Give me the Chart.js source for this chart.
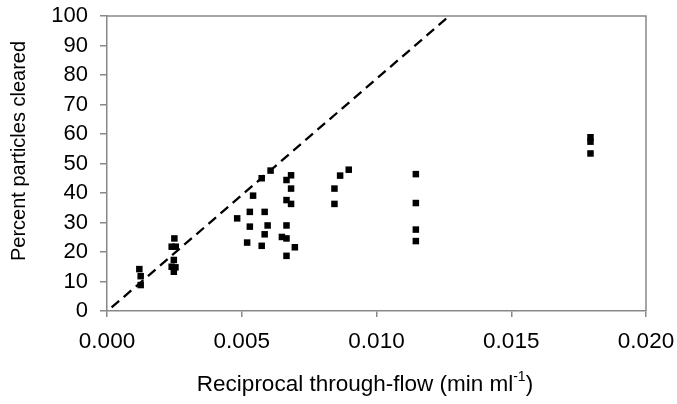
<!DOCTYPE html>
<html>
<head>
<meta charset="utf-8">
<script src="https://cdn.jsdelivr.net/npm/chart.js@4.4.1/dist/chart.umd.min.js"></script>
<style>
  html, body { margin: 0; padding: 0; background: #fff; }
  #wrap { width: 677px; height: 404px; position: relative; }
</style>
</head>
<body>
<div id="wrap"><canvas id="clearChart"></canvas></div>
<script>
// Measured points (reciprocal through-flow vs percent cleared)
const flowValues = [
    0.0012, 0.00125, 0.00125,
    0.0025, 0.0024, 0.00255, 0.00248, 0.0024, 0.00254, 0.00248,
    0.00483, 0.0052, 0.0053, 0.0053, 0.00542, 0.00574, 0.00574, 0.00585, 0.00585, 0.00596,
    0.00607, 0.00649, 0.00666, 0.00683, 0.00666, 0.00683, 0.00683, 0.00666, 0.00666, 0.00666, 0.00697,
    0.00844, 0.00844, 0.00865, 0.00897,
    0.01146, 0.01146, 0.01146, 0.01146,
    0.01794, 0.01794, 0.01794
];
const clearedValues = [
    14.2, 11.8, 8.8,
    24.6, 21.8, 21.8, 17.3, 15.0, 14.8, 13.3,
    31.4, 23.2, 33.6, 28.6, 39.1, 45.0, 22.1, 33.6, 26.0, 29.0,
    47.6, 25.1, 44.4, 46.0, 37.6, 41.5, 36.3, 29.0, 24.6, 18.7, 21.6,
    41.5, 36.3, 45.9, 47.9,
    46.4, 36.6, 27.6, 23.7,
    58.9, 57.4, 53.4
];
// Dashed model line
const modelX = [0.00017, 0.0127];
const modelY = [1.2, 100];

const xTicks = [0, 0.005, 0.010, 0.015, 0.020];
const yTicks = [0, 10, 20, 30, 40, 50, 60, 70, 80, 90, 100];

const axisGray = "#888888";
const textColor = "#000000";
const fontFamily = "'Liberation Sans', Arial, sans-serif";

// Frame (top/right) and axis titles
const framePlugin = {
    id: "frame",
    afterDraw(chart) {
        const { ctx, chartArea: a } = chart;
        ctx.save();
        ctx.strokeStyle = axisGray;
        ctx.lineWidth = 1.5;
        ctx.beginPath();
        ctx.moveTo(a.left, a.top);
        ctx.lineTo(a.right, a.top);
        ctx.lineTo(a.right, a.bottom);
        ctx.stroke();

        // y title
        ctx.fillStyle = textColor;
        ctx.font = `20px ${fontFamily}`;
        ctx.textAlign = "center";
        ctx.textBaseline = "middle";
        ctx.translate(19, 151);
        ctx.rotate(-Math.PI / 2);
        ctx.fillText("Percent particles cleared", 0, 0);
        ctx.restore();

        // x title with superscript
        ctx.save();
        ctx.fillStyle = textColor;
        ctx.textBaseline = "alphabetic";
        const main = "Reciprocal through-flow (min ml";
        const sup = "-1";
        const tail = ")";
        const bigFont = `22.5px ${fontFamily}`;
        const smallFont = `14px ${fontFamily}`;
        ctx.font = bigFont;
        const wMain = ctx.measureText(main).width;
        const wTail = ctx.measureText(tail).width;
        ctx.font = smallFont;
        const wSup = ctx.measureText(sup).width;
        const total = wMain + wSup + wTail;
        let x = 365 - total / 2;
        const base = 391;
        ctx.font = bigFont;
        ctx.fillText(main, x, base);
        x += wMain;
        ctx.font = smallFont;
        ctx.fillText(sup, x, base - 10);
        x += wSup;
        ctx.font = bigFont;
        ctx.fillText(tail, x, base);
        ctx.restore();
    }
};

const points = flowValues.map((v, i) => ({ x: v, y: clearedValues[i] }));
const modelLine = modelX.map((v, i) => ({ x: v, y: modelY[i] }));

new Chart(document.getElementById("clearChart"), {
    type: "scatter",
    data: {
        datasets: [
            {
                label: "Model",
                data: modelLine,
                showLine: true,
                borderColor: "#000",
                borderWidth: 2.3,
                borderDash: [10, 6],
                pointRadius: 0,
                fill: false
            },
            {
                label: "Measured",
                data: points,
                pointStyle: "rect",
                pointRadius: 4.6,
                pointBackgroundColor: "#000",
                pointBorderWidth: 0,
                borderColor: "#000"
            }
        ]
    },
    options: {
        responsive: true,
        maintainAspectRatio: false,
        animation: false,
        layout: { padding: { top: 16, right: 31, left: 0, bottom: 0 } },
        plugins: {
            legend: { display: false },
            tooltip: { enabled: false }
        },
        scales: {
            x: {
                type: "linear",
                min: 0,
                max: 0.02,
                afterFit: s => {
                    s.height = 93;
                    s.paddingLeft = 0;
                    s.paddingRight = 0;
                },
                afterBuildTicks: s => { s.ticks = xTicks.map(v => ({ value: v })); },
                ticks: {
                    callback: v => v.toFixed(3),
                    color: textColor,
                    font: { family: fontFamily, size: 22.5 },
                    padding: 11,
                    maxRotation: 0,
                    autoSkip: false
                },
                grid: { drawOnChartArea: false, drawTicks: true, tickLength: 6, color: axisGray, lineWidth: 1.5 },
                border: { color: axisGray, width: 1.5 }
            },
            y: {
                min: 0,
                max: 100,
                afterFit: s => {
                    s.width = 107;
                    s.paddingTop = 0;
                    s.paddingBottom = 0;
                },
                afterBuildTicks: s => { s.ticks = yTicks.map(v => ({ value: v })); },
                ticks: {
                    color: textColor,
                    font: { family: fontFamily, size: 22 },
                    padding: 12,
                    autoSkip: false
                },
                grid: { drawOnChartArea: false, drawTicks: true, tickLength: 7, color: axisGray, lineWidth: 1.5 },
                border: { color: axisGray, width: 1.5 }
            }
        }
    },
    plugins: [framePlugin]
});
</script>
</body>
</html>
